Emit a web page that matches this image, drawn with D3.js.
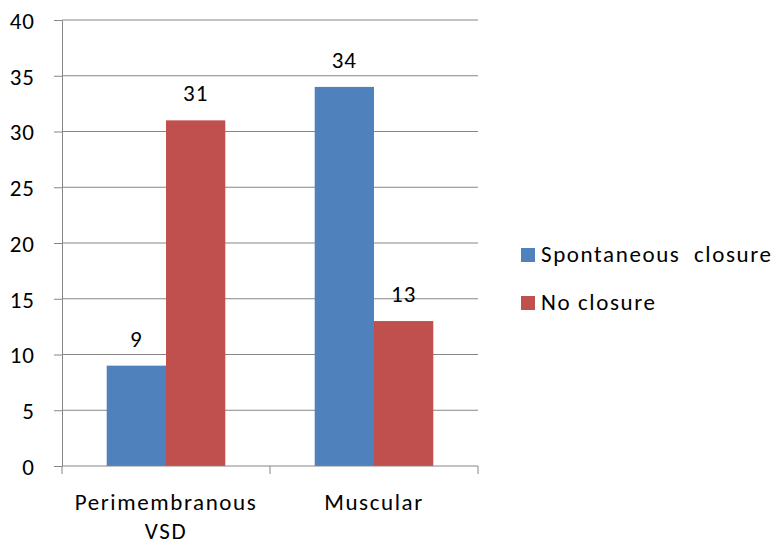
<!DOCTYPE html>
<html>
<head>
<meta charset="utf-8">
<script src="https://cdn.jsdelivr.net/npm/d3@7"></script>
<style>
  html, body { margin: 0; padding: 0; background: #fff; }
  svg { display: block; font-family: Carlito, Lato, "Open Sans", sans-serif; }
  text { white-space: pre; }
</style>
</head>
<body>
<svg id="chart" width="777" height="544"></svg>
<script>
// VSD type vs. outcome
const categories = [["Perimembranous", "VSD"], ["Muscular"]];
const seriesNames = ["Spontaneous  closure", "No closure"];
const spontaneous = [9, 34];
const noClosure = [31, 13];
const yTicks = [0, 5, 10, 15, 20, 25, 30, 35, 40];
const colors = ["#4F81BD", "#C0504D"];

const series = [spontaneous, noClosure];
const svg = d3.select("#chart");
const m = { left: 62, right: 299, top: 20, bottom: 78 };
const W = 777, H = 544;

const x = d3.scaleBand().domain(d3.range(categories.length))
  .range([m.left, W - m.right]).paddingInner(0).paddingOuter(0);
const inner = d3.scaleBand().domain(d3.range(series.length))
  .range([0, x.bandwidth()]).paddingOuter(0.754).paddingInner(0);
const y = d3.scaleLinear().domain([0, 40]).range([H - m.bottom, m.top]);

const gridColor = "#868686";
const fontSize = 23;
const spacing = "1.6px";

// left axis with tick marks
const yAxis = svg.append("g").attr("transform", `translate(${m.left},0)`)
  .call(d3.axisLeft(y).tickValues(yTicks).tickSize(8).tickSizeOuter(0).tickPadding(19));
yAxis.attr("font-family", null).attr("font-size", null);
yAxis.select(".domain").attr("stroke", gridColor);
yAxis.selectAll(".tick line").attr("stroke", gridColor);
yAxis.selectAll(".tick text").attr("font-size", fontSize).attr("fill", "#000")
  .attr("letter-spacing", "1px").attr("dy", "0.36em");

// horizontal gridlines
svg.append("g").selectAll("line").data(yTicks.filter(d => d > 0)).join("line")
  .attr("x1", m.left).attr("x2", W - m.right)
  .attr("y1", d => y(d)).attr("y2", d => y(d))
  .attr("stroke", gridColor);

// bars and value labels
const rows = (d, i) => series.map((s, k) => ({ k, v: s[i] }));
const groups = svg.append("g").selectAll("g").data(categories).join("g")
  .attr("transform", (d, i) => `translate(${x(i)},0)`);
groups.selectAll("rect").data(rows).join("rect")
  .attr("x", d => inner(d.k)).attr("width", inner.bandwidth())
  .attr("y", d => y(d.v)).attr("height", d => y(0) - y(d.v))
  .attr("fill", d => colors[d.k]);
groups.selectAll("text.val").data(rows).join("text")
  .attr("class", "val")
  .attr("x", d => inner(d.k) + inner.bandwidth() / 2)
  .attr("y", d => y(d.v) - 19)
  .attr("text-anchor", "middle").attr("font-size", fontSize).attr("fill", "#000")
  .attr("letter-spacing", "1px")
  .text(d => d.v);

// category axis
const xAxis = svg.append("g").attr("transform", `translate(0,${y(0)})`);
xAxis.append("line").attr("x1", m.left).attr("x2", W - m.right)
  .attr("y1", 0).attr("y2", 0).attr("stroke", gridColor);
xAxis.selectAll("line.tick").data(d3.range(categories.length + 1)).join("line")
  .attr("class", "tick")
  .attr("x1", i => i < categories.length ? x(i) : W - m.right)
  .attr("x2", i => i < categories.length ? x(i) : W - m.right)
  .attr("y1", 0).attr("y2", 8).attr("stroke", gridColor);
xAxis.selectAll("text").data(categories).join("text")
  .attr("text-anchor", "middle").attr("font-size", fontSize).attr("fill", "#000")
  .attr("letter-spacing", spacing)
  .attr("transform", (d, i) => `translate(${x(i) + x.bandwidth() / 2},44)`)
  .selectAll("tspan").data(d => d).join("tspan")
  .attr("x", 0).attr("dy", (d, j) => j === 0 ? 0 : 29).text(d => d);

// legend
const legend = svg.append("g").attr("transform", "translate(521,248)");
const li = legend.selectAll("g").data(seriesNames).join("g")
  .attr("transform", (d, i) => `translate(0,${i * 48})`);
li.append("rect").attr("width", 14).attr("height", 14).attr("fill", (d, i) => colors[i]);
li.append("text").attr("x", 20).attr("y", 14).attr("font-size", fontSize).attr("fill", "#000")
  .attr("letter-spacing", spacing).text(d => d);
</script>
</body>
</html>
